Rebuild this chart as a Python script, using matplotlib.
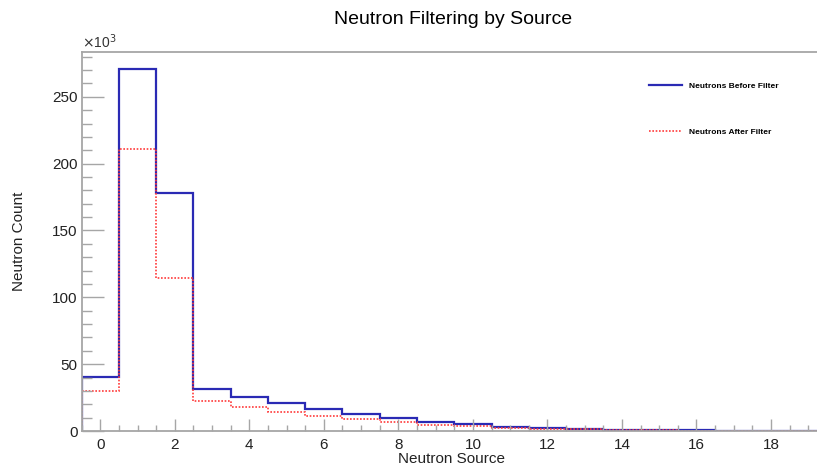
import numpy as np
import matplotlib.pyplot as plt
from matplotlib.ticker import MultipleLocator

# bin centres 0..19, counts
sources = np.arange(20)
before_filter = [40600, 270500, 177800, 31400, 25200, 20700, 16500, 12700, 9400, 6600,
                 5000, 3300, 2200, 1400, 900, 600, 400, 300, 200, 150]
after_filter = [29800, 211000, 114600, 22700, 17700, 14500, 11500, 9000, 6500, 4800,
                3600, 2600, 1800, 1200, 800, 500, 350, 250, 150, 100]

plt.rcParams['font.family'] = ['Liberation Sans', 'DejaVu Sans']

edges = np.append(sources - 0.5, sources[-1] + 0.5)
grey = "#a6a6a6"

fig = plt.figure(figsize=(8.17, 4.68), dpi=100)
ax = fig.add_axes([0.1, 0.079, 0.912, 0.809])

ax.stairs(np.array(before_filter) / 1e3, edges, color="#2a2ab4", linewidth=1.6,
          label="Neutrons Before Filter")
ax.stairs(np.array(after_filter) / 1e3, edges, color="#ff3b3b", linewidth=1.2,
          linestyle=(0, (1, 1)), label="Neutrons After Filter")

ax.set_xlim(-0.5, 19.5)
ax.set_ylim(0, 283.2)

ax.xaxis.set_major_locator(MultipleLocator(2))
ax.xaxis.set_minor_locator(MultipleLocator(0.5))
ax.yaxis.set_major_locator(MultipleLocator(50))
ax.yaxis.set_minor_locator(MultipleLocator(10))

ax.tick_params(axis="y", which="major", direction="in", length=16, width=1, color=grey,
               labelsize=11, pad=3, labelcolor="#222222")
ax.tick_params(axis="y", which="minor", direction="in", length=7.5, width=1, color=grey)
ax.tick_params(axis="x", which="major", direction="in", length=8.5, width=1, color=grey,
               labelsize=11, pad=5, labelcolor="#222222")
ax.tick_params(axis="x", which="minor", direction="in", length=4.3, width=1, color=grey)

for side in ["left", "bottom", "top", "right"]:
    ax.spines[side].set_color(grey)
    ax.spines[side].set_linewidth(1.3)

ax.set_xlabel("Neutron Source", fontsize=11, color="#222222")
ax.set_ylabel("Neutron Count", fontsize=11, color="#222222")
ax.xaxis.set_label_coords(0.496, -0.055)
ax.yaxis.set_label_coords(-0.075, 0.5)

fig.text(0.555, 0.958, "Neutron Filtering by Source", fontsize=14, ha="center", va="center")
ax.text(0.0, 1.005, r"$\times$10$^{3}$", transform=ax.transAxes, fontsize=10,
        ha="left", va="bottom", color="#333333")

ax.legend(loc="upper left", bbox_to_anchor=(0.785, 0.84), bbox_transform=fig.transFigure,
          frameon=False, prop={"size": 6, "weight": "bold"}, handlelength=4.0,
          handletextpad=0.8, labelspacing=4.5)

fig.savefig("out.png", dpi=100)
